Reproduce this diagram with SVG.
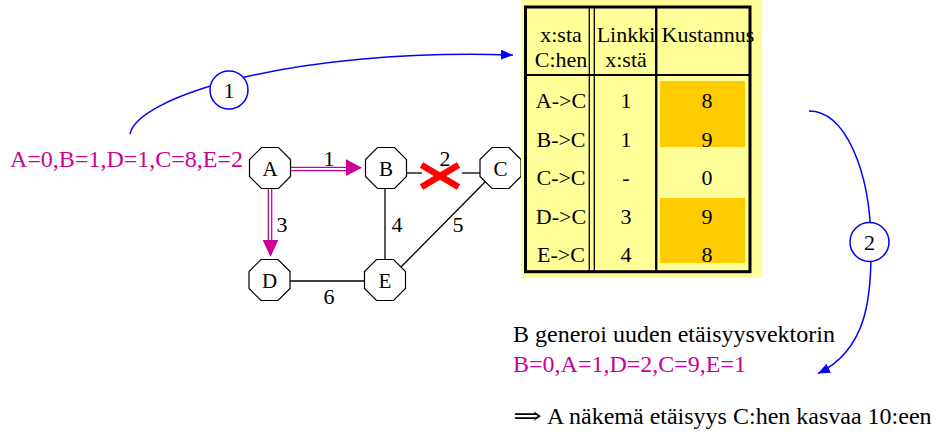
<svg xmlns="http://www.w3.org/2000/svg" width="936" height="441" viewBox="0 0 936 441" font-family="'Liberation Serif', 'Times New Roman', Times, serif">
  <style>
    text { font-family: 'Liberation Serif', 'Times New Roman', Times, serif; fill: #000; }
    .big { font-size: 24px; }
    .tbl { font-size: 22px; text-anchor: middle; }
    .lbl { font-size: 22px; text-anchor: middle; }
    .node-shape { fill: #fff; stroke: #000; stroke-width: 1.2; }
    .node-text { font-size: 21px; text-anchor: middle; }
    .vec { fill: #CC0099; }
    .sym { font-family: 'Liberation Serif', 'DejaVu Serif', serif; font-size: 24px; }
    .edge { stroke: #000; stroke-width: 1.3; fill: none; }
    .route { stroke: #CC0099; stroke-width: 1.3; fill: none; }
    .route-head { fill: #CC0099; }
    .flow { stroke: #0000FF; stroke-width: 1.5; fill: none; }
    .step { fill: #fff; stroke: #0000FF; stroke-width: 1.5; }
    .grid { stroke: #000; fill: none; }
  </style>
  <defs>
    <polygon id="octagon" class="node-shape" points="-8.5,-20.5 8.5,-20.5 20.5,-8.5 20.5,8.5 8.5,20.5 -8.5,20.5 -20.5,8.5 -20.5,-8.5"/>
    <marker id="blue-arrow" markerUnits="userSpaceOnUse" markerWidth="14" markerHeight="12" refX="12" refY="5" orient="auto">
      <path d="M0,0 L12,5 L0,10 Z" fill="#0000FF"/>
    </marker>
  </defs>

  <rect width="936" height="441" fill="#fff"/>

  <!-- distance vector of A -->
  <text class="big vec" x="10" y="167">A=0,B=1,D=1,C=8,E=2</text>

  <!-- network links -->
  <g id="connectors">
    <!-- A to B, double line with head -->
    <line class="route" x1="291" y1="167.3" x2="347" y2="167.3"/>
    <line class="route" x1="291" y1="170.7" x2="347" y2="170.7"/>
    <polygon class="route-head" points="346,159.3 346,176 362,167.7"/>
    <text class="lbl" x="329" y="166">1</text>

    <!-- A to D, double line with head -->
    <line class="route" x1="268.3" y1="189" x2="268.3" y2="241"/>
    <line class="route" x1="271.7" y1="189" x2="271.7" y2="241"/>
    <polygon class="route-head" points="262.7,240 278.3,240 270.5,257"/>
    <text class="lbl" x="282" y="232">3</text>

    <!-- B to C, broken link -->
    <line class="edge" x1="406" y1="173" x2="422" y2="173"/>
    <line class="edge" x1="462" y1="173" x2="481" y2="173"/>
    <text class="lbl" x="445" y="166">2</text>
    <g stroke="#FF0000" stroke-width="6.5">
      <line x1="421.5" y1="165" x2="458.5" y2="187"/>
      <line x1="421.5" y1="187" x2="458.5" y2="165"/>
    </g>

    <!-- B to E -->
    <line class="edge" x1="385" y1="189" x2="385" y2="260"/>
    <text class="lbl" x="397" y="232">4</text>

    <!-- C to E -->
    <line class="edge" x1="488" y1="179" x2="400" y2="268"/>
    <text class="lbl" x="458" y="232">5</text>

    <!-- D to E -->
    <line class="edge" x1="290" y1="281" x2="365" y2="281"/>
    <text class="lbl" x="329" y="304">6</text>

    <!-- step 1: vector sent towards the table -->
    <path class="flow" d="M130,134 C137,97 290,48 513,55" marker-end="url(#blue-arrow)"/>
    <!-- step 2: table result back to B -->
    <path class="flow" d="M809,111 C845,111 870,170 871,242 C872,300 866,350 818,373.5" marker-end="url(#blue-arrow)"/>
  </g>

  <!-- step markers -->
  <g id="step-1">
    <circle class="step" cx="229" cy="90" r="19"/>
    <text class="lbl" x="229" y="97.5">1</text>
  </g>
  <g id="step-2">
    <circle class="step" cx="869.5" cy="242" r="19.5"/>
    <text class="lbl" x="869.5" y="249.5">2</text>
  </g>

  <!-- routers -->
  <g id="node-A">
    <use href="#octagon" x="270" y="168"/>
    <text class="node-text" x="270" y="175.5">A</text>
  </g>
  <g id="node-B">
    <use href="#octagon" x="386" y="168"/>
    <text class="node-text" x="386" y="175.5">B</text>
  </g>
  <g id="node-C">
    <use href="#octagon" x="500.5" y="168"/>
    <text class="node-text" x="500.5" y="175.5">C</text>
  </g>
  <g id="node-D">
    <use href="#octagon" x="269.5" y="280"/>
    <text class="node-text" x="269.5" y="287.5">D</text>
  </g>
  <g id="node-E">
    <use href="#octagon" x="385" y="280"/>
    <text class="node-text" x="385" y="287.5">E</text>
  </g>

  <!-- routing table of C's neighbours -->
  <g id="table">
    <rect x="521" y="0" width="241" height="278" fill="#FFFF99"/>
    <rect x="660" y="81" width="85" height="66" fill="#FFCC00"/>
    <rect x="660" y="198" width="85" height="65" fill="#FFCC00"/>

    <rect class="grid" x="525.5" y="7" width="224.5" height="264.7" stroke-width="3"/>
    <line class="grid" x1="525.5" y1="75" x2="750" y2="75" stroke-width="2.2"/>
    <line class="grid" x1="589.3" y1="7" x2="589.3" y2="271.7" stroke-width="1.3"/>
    <line class="grid" x1="594.3" y1="7" x2="594.3" y2="271.7" stroke-width="1.3"/>
    <line class="grid" x1="656.2" y1="7" x2="656.2" y2="271.7" stroke-width="2.4"/>

    <text class="tbl" x="561" y="42">x:sta</text>
    <text class="tbl" x="561" y="67">C:hen</text>
    <text class="tbl" x="626" y="42">Linkki</text>
    <text class="tbl" x="626" y="67">x:stä</text>
    <text class="tbl" x="708" y="42">Kustannus</text>

    <text class="tbl" x="561" y="108">A-&gt;C</text>
    <text class="tbl" x="626" y="108">1</text>
    <text class="tbl" x="707" y="108">8</text>

    <text class="tbl" x="561" y="146.5">B-&gt;C</text>
    <text class="tbl" x="626" y="146.5">1</text>
    <text class="tbl" x="707" y="146.5">9</text>

    <text class="tbl" x="561" y="185">C-&gt;C</text>
    <text class="tbl" x="626" y="185">-</text>
    <text class="tbl" x="707" y="185">0</text>

    <text class="tbl" x="561" y="223.5">D-&gt;C</text>
    <text class="tbl" x="626" y="223.5">3</text>
    <text class="tbl" x="707" y="223.5">9</text>

    <text class="tbl" x="561" y="262">E-&gt;C</text>
    <text class="tbl" x="626" y="262">4</text>
    <text class="tbl" x="707" y="262">8</text>
  </g>

  <!-- explanation -->
  <text class="big" x="513" y="342">B generoi uuden etäisyysvektorin</text>
  <text class="big vec" x="513" y="372">B=0,A=1,D=2,C=9,E=1</text>
  <text class="sym" x="513" y="424" textLength="29" lengthAdjust="spacingAndGlyphs">⇒</text>
  <text class="big" x="547" y="424">A näkemä etäisyys C:hen kasvaa 10:een</text>
</svg>
